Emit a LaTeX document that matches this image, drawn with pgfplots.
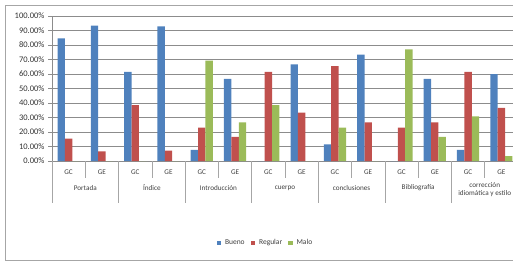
\documentclass[border=0pt]{standalone}
\usepackage{pgfplots}
\pgfplotsset{compat=1.18}
\usepackage{fontspec}
\setmainfont{Carlito}
\definecolor{cBlue}{HTML}{4F81BD}
\definecolor{cRed}{HTML}{C0504D}
\definecolor{cGreen}{HTML}{9BBB59}
\definecolor{cGrid}{HTML}{8C8C8C}
\definecolor{cFrame}{HTML}{A6A6A6}
\begin{document}
\begin{tikzpicture}
\useasboundingbox (0pt,0pt) rectangle (513pt,-262pt);
\draw[cFrame, line width=0.8pt] (513pt,-5pt) -- (5.5pt,-5pt) -- (5.5pt,-260pt) -- (513pt,-260pt);
\begin{axis}[
  at={(52pt,-161pt)}, anchor=south west,
  scale only axis, width=466pt, height=145pt,
  ybar=0pt, bar width=7.4pt,
  xmin=-0.5, xmax=13.5, ymin=0, ymax=100,
  axis x line*=bottom, axis y line*=left,
  axis line style={cGrid, line width=0.6pt},
  xtick={0,...,13},
  xticklabels={GC,GE,GC,GE,GC,GE,GC,GE,GC,GE,GC,GE,GC,GE},
  xtick style={draw=none},
  xticklabel style={font=\fontsize{7.2}{8}\selectfont, text=black!75, yshift=-1pt},
  ytick={0,10,...,100},
  ymajorgrids, grid style={cGrid, line width=0.6pt},
  tick align=outside, major tick length=4pt,
  ytick style={cGrid, line width=0.6pt},
  /pgf/number format/assume math mode=true,
  yticklabel={\pgfmathprintnumber[fixed,fixed zerofill,precision=2]{\tick}\%},
  yticklabel style={font=\fontsize{8.5}{9}\selectfont, text=black!80},
  clip=false,
  legend style={at={(0.458,-0.5655)}, anchor=center, legend columns=3, draw=none,
    font=\fontsize{7.5}{8}\selectfont, text=black!75, column sep=2pt,
    /tikz/every even column/.append style={column sep=4pt}},
  legend image code/.code={\fill[#1] (0pt,-2.2pt) rectangle (4.4pt,2.2pt);},
]
\addplot[draw=none, fill=cBlue] coordinates {(0,84.62) (1,93.33) (2,61.54) (3,92.86) (4,7.69) (5,56.67) (6,0) (7,66.67) (8,11.54) (9,73.33) (10,0) (11,56.67) (12,7.69) (13,60.00)};
\addplot[draw=none, fill=cRed] coordinates {(0,15.38) (1,6.67) (2,38.46) (3,7.14) (4,23.08) (5,16.67) (6,61.54) (7,33.33) (8,65.38) (9,26.67) (10,23.08) (11,26.67) (12,61.54) (13,36.67)};
\addplot[draw=none, fill=cGreen] coordinates {(0,0) (1,0) (2,0) (3,0) (4,69.23) (5,26.67) (6,38.46) (7,0) (8,23.08) (9,0) (10,76.92) (11,16.67) (12,30.77) (13,3.33)};
\legend{Bueno,Regular,Malo}
\begin{scope}[cFrame, line width=0.6pt]
\draw (axis cs:0.5,0) -- ([yshift=-17pt]axis cs:0.5,0);
\draw (axis cs:2.5,0) -- ([yshift=-17pt]axis cs:2.5,0);
\draw (axis cs:4.5,0) -- ([yshift=-17pt]axis cs:4.5,0);
\draw (axis cs:6.5,0) -- ([yshift=-17pt]axis cs:6.5,0);
\draw (axis cs:8.5,0) -- ([yshift=-17pt]axis cs:8.5,0);
\draw (axis cs:10.5,0) -- ([yshift=-17pt]axis cs:10.5,0);
\draw (axis cs:12.5,0) -- ([yshift=-17pt]axis cs:12.5,0);
\draw (axis cs:-0.5,0) -- ([yshift=-42pt]axis cs:-0.5,0);
\draw (axis cs:1.5,0) -- ([yshift=-42pt]axis cs:1.5,0);
\draw (axis cs:3.5,0) -- ([yshift=-42pt]axis cs:3.5,0);
\draw (axis cs:5.5,0) -- ([yshift=-42pt]axis cs:5.5,0);
\draw (axis cs:7.5,0) -- ([yshift=-42pt]axis cs:7.5,0);
\draw (axis cs:9.5,0) -- ([yshift=-42pt]axis cs:9.5,0);
\draw (axis cs:11.5,0) -- ([yshift=-42pt]axis cs:11.5,0);
\end{scope}
\begin{scope}[every node/.style={font=\fontsize{7.2}{8}\selectfont, text=black!75}]
\node at ([yshift=-27pt]axis cs:0.5,0) {Portada};
\node at ([yshift=-27pt]axis cs:2.5,0) {Índice};
\node at ([yshift=-27pt]axis cs:4.5,0) {Introducción};
\node at ([yshift=-27pt]axis cs:6.5,0) {cuerpo};
\node at ([yshift=-27pt]axis cs:8.5,0) {conclusiones};
\node at ([yshift=-27pt]axis cs:10.5,0) {Bibliografía};
\node[align=center, font=\fontsize{7.2}{7.8}\selectfont] at ([yshift=-28.5pt]axis cs:12.5,0) {corrección\\idiomática y estilo};
\end{scope}
\end{axis}
\end{tikzpicture}
\end{document}
